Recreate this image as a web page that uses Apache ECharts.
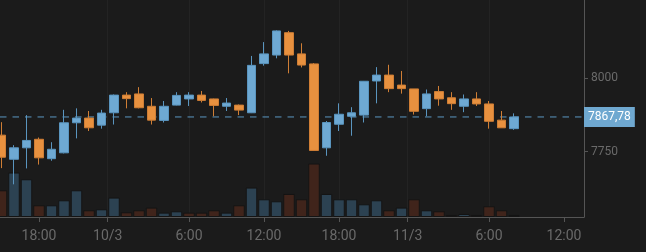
<!DOCTYPE html>
<html>
<head>
<meta charset="utf-8">
<script src="https://cdn.jsdelivr.net/npm/echarts@6/dist/echarts.min.js"></script>
<style>
html,body{margin:0;padding:0;background:#1b1b1b;}
#c{width:646px;height:252px;}
</style>
</head>
<body>
<div id="c"></div>
<script>
// hour index 0 = 9/3 15:00, hourly candles
const hours = [0,1,2,3,4,5,6,7,8,9,10,11,12,13,14,15,16,17,18,19,20,21,22,23,24,25,26,27,28,29,30,31,32,33,34,35,36,37,38,39,40,41];
const opens  = [7806,7724,7763,7792,7726,7746,7848,7864,7840,7882,7942,7946,7904,7856,7908,7929,7942,7929,7904,7908,7882,8049,8078,8154,8082,8048,7763,7843,7870,7874,7990,8010,7976,7963,7896,7954,7933,7904,7929,7912,7857,7828];
const closes = [7731,7763,7788,7729,7758,7848,7864,7831,7881,7942,7930,7899,7857,7904,7941,7942,7924,7907,7915,7891,8043,8082,8160,8078,8044,7754,7849,7877,7882,7989,8010,7964,7964,7887,7946,7929,7913,7929,7912,7853,7831,7867.78];
const lows   = [7694,7639,7693,7706,7719,7744,7795,7820,7828,7842,7897,7897,7842,7849,7907,7905,7917,7870,7888,7874,7881,8042,8067,8016,8036,7753,7736,7820,7804,7849,7914,7952,7947,7876,7870,7906,7892,7884,7905,7828,7831,7824];
const highs  = [7850,7772,7874,7798,7782,7892,7897,7888,7892,7944,7952,7969,7932,7922,7952,7952,7956,7930,7932,7910,8075,8122,8162,8160,8118,8051,7854,7914,7901,7990,8037,8045,8024,7963,7961,7973,7952,7944,7952,7922,7888,7880];
const volumes = [667,1110,942,292,292,417,667,167,192,485,117,167,235,110,142,110,110,167,110,292,735,442,392,575,442,1335,575,442,442,317,417,167,235,442,167,142,50,75,50,267,167,50];
// volume bar direction (1 = up/blue, 0 = down/brown)
const volumeDir = [0,1,1,0,1,1,1,0,1,1,0,0,0,1,1,0,0,0,1,0,1,1,1,0,0,0,1,1,1,1,1,0,1,0,1,0,0,1,0,0,0,1];
const tickValues = [3, 8.5, 15, 21, 27, 32.5, 39, 45];
const tickLabels = ['18:00','10/3','6:00','12:00','18:00','11/3','6:00','12:00'];
const priceTicks = [7750, 8000];
const lastPrice = 7867.78;
const lastPriceLabel = '7867,78';
const xMin = -0.12, xMax = 46.6;

const candleData = hours.map((h,i)=>[h, opens[i], closes[i], lows[i], highs[i]]);
const volData = hours.map((h,i)=>({value:[h, volumes[i]], itemStyle:{color: volumeDir[i] ? '#2c4252' : '#40241b'}}));

const chart = echarts.init(document.getElementById('c'), null, {renderer:'canvas'});
chart.setOption({
  backgroundColor:'#1b1b1b',
  animation:false,
  grid:{left:0, right:62, top:0, bottom:35},
  xAxis:{
    type:'value', min:xMin, max:xMax,
    axisLine:{show:true, onZero:false, lineStyle:{color:'#555555', width:1}},
    axisTick:{show:true, length:5, lineStyle:{color:'#555555'}, customValues: tickValues},
    axisLabel:{color:'#6a6a6a', fontSize:14, fontFamily:'Roboto', margin:12, customValues: tickValues,
      formatter:(v)=>{const k = tickValues.indexOf(v); return k>=0 ? tickLabels[k] : '';}},
    splitLine:{show:true, showMinLine:false, showMaxLine:false, lineStyle:{color:'#232323', width:1}}
  },
  yAxis:[{
    type:'value', position:'right', min:7528, max:8265,
    axisLine:{show:true, onZero:false, lineStyle:{color:'#555555'}},
    axisTick:{show:true, length:4, lineStyle:{color:'#555555'}, customValues: priceTicks},
    axisLabel:{color:'#6a6a6a', fontSize:12, fontFamily:'Roboto', margin:7, customValues: priceTicks,
      formatter:(v)=>String(v)},
    splitLine:{show:true, showMinLine:false, showMaxLine:false, lineStyle:{color:'#262626'}}
  },{
    type:'value', position:'left', min:0, max:5418, show:false,
    axisLine:{show:false, onZero:false}, axisTick:{show:false}, axisLabel:{show:false}, splitLine:{show:false}
  }],
  series:[{
    type:'bar', xAxisIndex:0, yAxisIndex:1, data:volData, barWidth:11.5,
    itemStyle:{borderColor:'#141414', borderWidth:1}, z:1
  },{
    type:'line', xAxisIndex:0, yAxisIndex:0, silent:true,
    data:[[xMin, lastPrice],[xMax, lastPrice]],
    symbol:'none', z:2,
    lineStyle:{color:'#5b97c2', type:[6.5,6], width:1},
    endLabel:{show:true, distance:0, formatter:lastPriceLabel,
      color:'#ffffff', fontSize:12, fontFamily:'Roboto', backgroundColor:'#6fa8d0',
      borderWidth:0, padding:[4,4,4,4]}
  },{
    type:'candlestick', xAxisIndex:0, yAxisIndex:0, data:candleData,
    encode:{x:0, y:[1,2,3,4]},
    barWidth:9,
    itemStyle:{color:'#6ea9d3', color0:'#e8913f', borderColor:'#5a95bf', borderColor0:'#cf7e35', borderWidth:1},
    z:3
  }]
});
</script>
</body>
</html>
